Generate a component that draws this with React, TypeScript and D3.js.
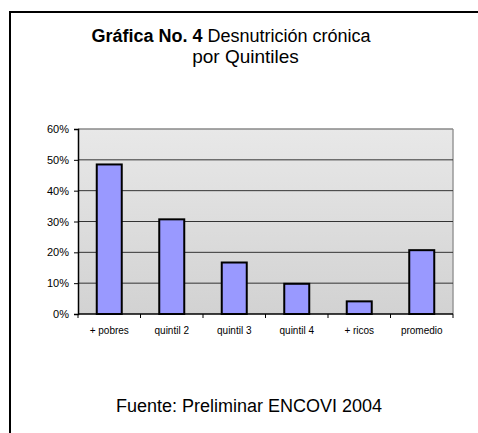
import { useEffect, useRef } from "react";
import * as d3 from "d3";

const categories = ["+ pobres", "quintil 2", "quintil 3", "quintil 4", "+ ricos", "promedio"];
const values = [48.5, 30.7, 16.7, 9.8, 4.1, 20.7];
const yTicks = [0, 10, 20, 30, 40, 50, 60];

const App = () => {
  const ref = useRef<SVGSVGElement>(null);

  useEffect(() => {
    const width = 478;
    const height = 433;
    const left = 78;
    const right = 453;
    const top = 129;
    const bottom = 314;

    document.body.style.margin = "0";
    document.body.style.overflow = "hidden";

    const svg = d3.select(ref.current).attr("width", width).attr("height", height);
    svg.selectAll("*").remove();

    const font = "Arial, 'Liberation Sans', sans-serif";

    // outer frame: only top and left edges are inside the picture
    svg
      .append("path")
      .attr("d", `M10,${height + 5}V12H${width + 5}`)
      .attr("fill", "none")
      .attr("stroke", "#000")
      .attr("stroke-width", 2);

    // title
    const title = svg
      .append("text")
      .attr("x", 231)
      .attr("y", 42)
      .attr("text-anchor", "middle")
      .style("font-family", font)
      .style("font-size", "18px");
    title.append("tspan").style("font-weight", "700").text("Gráfica No. 4");
    title.append("tspan").text(" Desnutrición crónica");
    svg
      .append("text")
      .attr("x", 245.5)
      .attr("y", 63)
      .attr("text-anchor", "middle")
      .style("font-family", font)
      .style("font-size", "19px")
      .text("por Quintiles");

    const x = d3.scaleBand<string>().domain(categories).range([left, right]).paddingInner(0.6).paddingOuter(0.3);
    const y = d3.scaleLinear().domain([0, 60]).range([bottom, top]);

    const defs = svg.append("defs");
    const grad = defs
      .append("linearGradient")
      .attr("id", "plotbg")
      .attr("x1", 0)
      .attr("y1", 0)
      .attr("x2", 0)
      .attr("y2", 1);
    grad.append("stop").attr("offset", "0%").attr("stop-color", "#e8e8e8");
    grad.append("stop").attr("offset", "100%").attr("stop-color", "#d2d2d2");

    svg
      .append("rect")
      .attr("x", left)
      .attr("y", top)
      .attr("width", right - left)
      .attr("height", bottom - top)
      .attr("fill", "url(#plotbg)");

    // right edge of plot area
    svg
      .append("line")
      .attr("x1", right)
      .attr("x2", right)
      .attr("y1", top)
      .attr("y2", bottom)
      .attr("stroke", "#999")
      .attr("stroke-width", 1.5);

    // gridlines
    svg
      .selectAll("line.grid")
      .data(yTicks.filter((t) => t > 0))
      .enter()
      .append("line")
      .attr("class", "grid")
      .attr("x1", left)
      .attr("x2", right)
      .attr("y1", (d) => y(d))
      .attr("y2", (d) => y(d))
      .attr("stroke", (d) => (d === 60 ? "#888" : "#333"))
      .attr("stroke-width", (d) => (d === 60 ? 1.5 : 1));

    // bars
    svg
      .selectAll("rect.bar")
      .data(values)
      .enter()
      .append("rect")
      .attr("class", "bar")
      .attr("x", (d, i) => x(categories[i])!)
      .attr("y", (d) => y(d))
      .attr("width", x.bandwidth())
      .attr("height", (d) => bottom - y(d))
      .attr("fill", "#9999ff")
      .attr("stroke", "#000")
      .attr("stroke-width", 2);

    // y axis
    const yAxis = svg
      .append("g")
      .attr("transform", `translate(${left},0)`)
      .call(d3.axisLeft(y).tickValues(yTicks).tickSize(4).tickPadding(5).tickFormat((d) => `${d}%`));
    yAxis.select(".domain").attr("stroke", "#000").attr("stroke-width", 1.5);
    yAxis.selectAll("line").attr("stroke", "#000");
    yAxis.selectAll("text").style("font-family", font).style("font-size", "11px").attr("fill", "#000");

    // x axis
    const boundaries = d3.range(categories.length + 1).map((i) => left + ((right - left) * i) / categories.length);
    const xAxis = svg.append("g");
    xAxis
      .append("line")
      .attr("x1", left)
      .attr("x2", right)
      .attr("y1", bottom)
      .attr("y2", bottom)
      .attr("stroke", "#000")
      .attr("stroke-width", 1.5);
    xAxis
      .selectAll("line.tick")
      .data(boundaries)
      .enter()
      .append("line")
      .attr("class", "tick")
      .attr("x1", (d) => d)
      .attr("x2", (d) => d)
      .attr("y1", bottom)
      .attr("y2", bottom + 4)
      .attr("stroke", "#000");
    xAxis
      .selectAll("text")
      .data(categories)
      .enter()
      .append("text")
      .attr("x", (d) => x(d)! + x.bandwidth() / 2)
      .attr("y", 334)
      .attr("text-anchor", "middle")
      .style("font-family", font)
      .style("font-size", "10px")
      .text((d) => d);

    // footer
    svg
      .append("text")
      .attr("x", 249)
      .attr("y", 412)
      .attr("text-anchor", "middle")
      .style("font-family", font)
      .style("font-size", "18px")
      .text("Fuente: Preliminar ENCOVI 2004");
  }, []);

  return (
    <div style={{ position: "absolute", left: 0, top: 0 }}>
      <svg ref={ref} style={{ display: "block" }}></svg>
    </div>
  );
};

export default App;
